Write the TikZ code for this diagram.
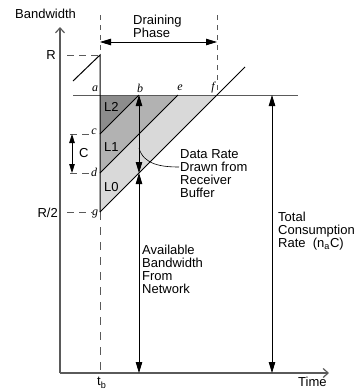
\documentclass[tikz,border=0pt]{standalone}
\usepackage{fontspec}
\setmainfont{Liberation Sans}
\newfontfamily\ptfont{Liberation Serif}
\usetikzlibrary{arrows.meta, positioning}
\definecolor{AxisGray}{HTML}{5A5A5A}
\definecolor{DarkFill}{HTML}{8C8C8C}
\definecolor{MidFill}{HTML}{B2B2B2}
\definecolor{LightFill}{HTML}{D9D9D9}

\begin{document}
\begin{tikzpicture}[x=1pt, y=-1pt,
  txt/.style={font=\fontsize{13}{13}\selectfont, align=left, inner sep=0pt},
  ptlbl/.style={font=\fontsize{12}{12}\selectfont\ptfont\itshape, inner sep=0pt},
  axis/.style={draw=AxisGray, line width=1.2pt, -{Straight Barb[length=5pt,width=9pt]}},
  guide/.style={draw=AxisGray, line width=0.8pt, dash pattern=on 7pt off 5pt},
  rate/.style={line width=1pt},
  dim/.style={line width=0.8pt, {Triangle[length=11pt,width=6.5pt]}-{Triangle[length=11pt,width=6.5pt]}}
]
\useasboundingbox (0,0) rectangle (357,391);

% points of the buffer picture
\coordinate (O)    at (60,373);
\coordinate (ytop) at (60,27);
\coordinate (xend) at (329,373);
\coordinate (R)    at (100,55);
\coordinate (a)    at (100,95);
\coordinate (b)    at (139,95);
\coordinate (e)    at (178,95);
\coordinate (f)    at (217,95);
\coordinate (c)    at (100,134);
\coordinate (d)    at (100,173);
\coordinate (g)    at (100,212);
\coordinate (m)    at (139,173);
\coordinate (btm)  at (139,373);
\coordinate (top)  at (245,67);
\coordinate (tc)   at (272,95);
\coordinate (tcb)  at (272,373);

% layers
\fill[DarkFill]  (a) -- (b) -- (c) -- cycle;
\fill[MidFill]   (c) -- (b) -- (e) -- (d) -- cycle;
\fill[LightFill] (d) -- (e) -- (f) -- (g) -- cycle;

% axes and guides
\draw[axis] (O) -- (ytop);
\draw[axis] (O) -- (xend);
\draw[guide, dash pattern=on 5pt off 5pt] (100,15) -- (R);
\draw[guide, dash pattern=on 8pt off 7pt] (g) -- (100,370);
\draw[guide, dash pattern=on 5pt off 5pt] (217,15) -- (f);
\draw[guide] (67,55) -- (R);
\draw[guide] (67,212) -- (g);
\draw[guide] (70,134) -- (92,134);
\draw[guide] (70,173) -- (92,173);
\draw[draw=AxisGray, line width=1pt] (73,95) -- (298,95);

% rate lines
\draw[rate] (73,81) -- (R) -- (g);
\draw[rate] (c) -- (b);
\draw[rate] (d) -- (e);
\draw[rate] (g) -- (top);

% dimension arrows
\draw[dim] (100,42) -- (217,42);
\draw[dim, {Triangle[length=9pt,width=5.5pt]}-{Triangle[length=9pt,width=5.5pt]}] (72,134) -- (72,173);
\draw[dim] (b) -- (m);
\draw[dim] (m) -- (btm);
\draw[dim] (tc) -- (tcb);
\draw[line width=0.6pt] (139,148) to[out=-75, in=180] (179,167);

% labels
\node[txt, anchor=west] (bw) at (15,14) {Bandwidth};
\node[txt, anchor=north west] (tm) at (298,377) {Time};
\node[txt, anchor=north west] (tb) at (97,377) {t\textsubscript{b}};
\node[txt, anchor=east] (rl) at (56,55) {R};
\node[txt, anchor=east] (r2) at (58,213) {R/2};
\node[txt, anchor=west] (cl) at (79,153) {C};
\node[txt, anchor=north west] (dp) at (133,15) {Draining\\Phase};
\node[txt, anchor=west] (l2) at (104,107) {L2};
\node[txt, anchor=west] (l1) at (104,147) {L1};
\node[txt, anchor=west] (l0) at (104,187) {L0};
\node[txt, anchor=north west] (drb) at (180,149) {Data Rate\\Drawn from\\Receiver\\Buffer};
\node[txt, anchor=north west] (abw) at (142,245) {Available\\Bandwidth\\From\\Network};
\node[txt, anchor=north west] (tcr) at (278,212) {Total\\Consumption\\Rate~~(n\textsubscript{a}C)};
\node[ptlbl] at (95,89) {a};
\node[ptlbl] at (140,88) {b};
\node[ptlbl] at (180,88) {e};
\node[ptlbl] at (213,88) {f};
\node[ptlbl, fill=white, inner sep=0.5pt] at (94,132) {c};
\node[ptlbl, fill=white, inner sep=0.5pt] at (94,172) {d};
\node[ptlbl, fill=white, inner sep=0.5pt] at (95,214) {g};

\end{tikzpicture}
\end{document}
